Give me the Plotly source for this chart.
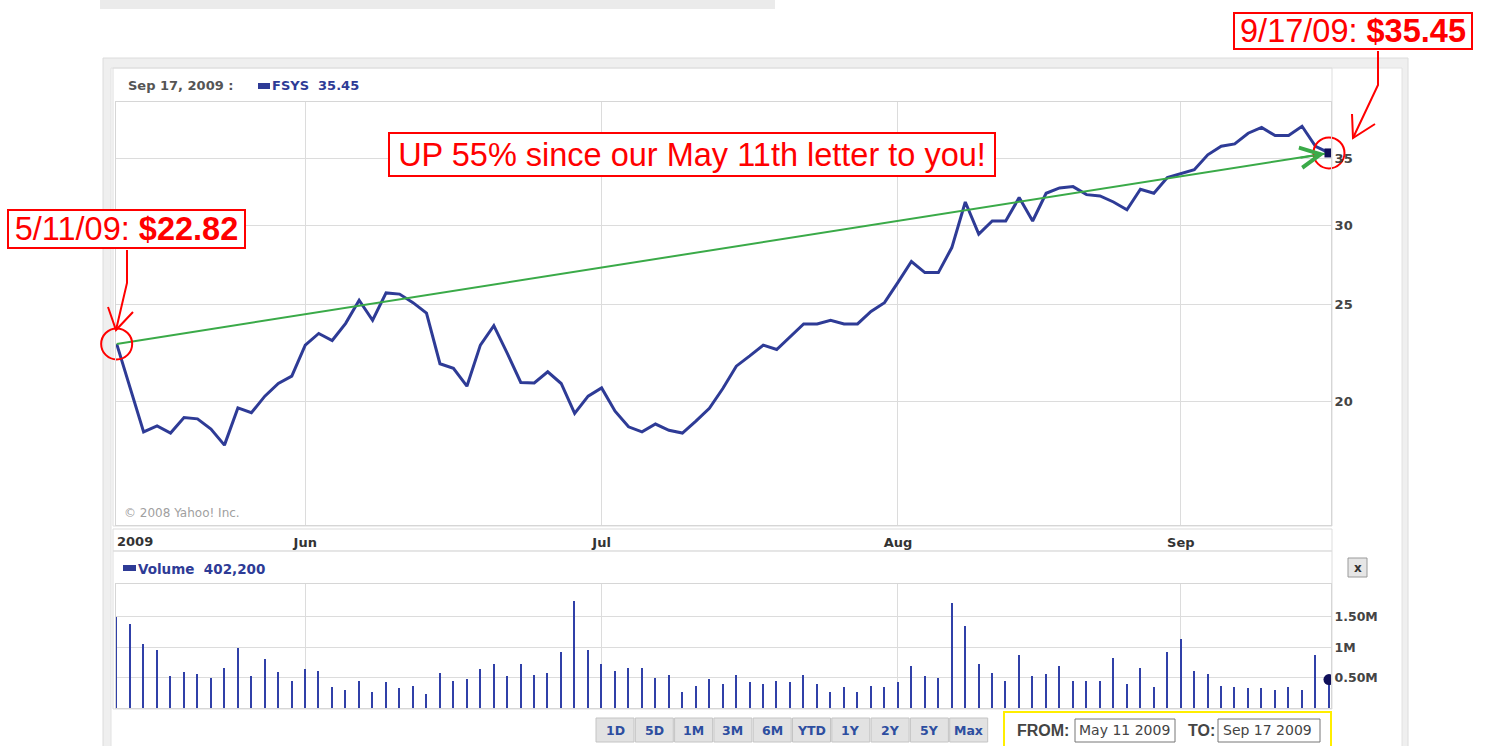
import math
import pandas as pd
import plotly.graph_objects as go

W, H = 1485, 746

# ---------------- data ----------------
SYMBOL = "FSYS"
HOLIDAYS = ["2009-05-25", "2009-07-03", "2009-09-07"]
trade_dates = pd.bdate_range("2009-05-11", "2009-09-17", freq="C", holidays=HOLIDAYS)
date_labels = [d.strftime("%Y-%m-%d") for d in trade_dates]

close = [22.82, 20.60, 18.63, 18.89, 18.58, 19.26, 19.20, 18.75, 18.07, 19.69,
         19.47, 20.23, 20.83, 21.19, 22.76, 23.38, 23.00, 23.93, 25.24, 24.10,
         25.67, 25.60, 25.10, 24.50, 21.80, 21.57, 20.70, 22.76, 23.80, 22.33,
         20.88, 20.86, 21.40, 20.83, 19.44, 20.23, 20.62, 19.54, 18.85, 18.63,
         18.97, 18.70, 18.58, 19.10, 19.67, 20.59, 21.68, 22.20, 22.76, 22.53,
         23.20, 23.90, 23.90, 24.10, 23.90, 23.90, 24.60, 25.10, 26.30, 27.60,
         26.90, 26.90, 28.50, 31.66, 29.40, 30.30, 30.30, 31.98, 30.30, 32.30,
         32.70, 32.80, 32.20, 32.10, 31.66, 31.10, 32.60, 32.30, 33.50, 33.80,
         34.10, 35.30, 36.00, 36.20, 37.10, 37.60, 36.90, 36.90, 37.70, 36.00,
         35.45]

volume_m = [1.50, 1.38, 1.06, 0.95, 0.52, 0.59, 0.56, 0.50, 0.66, 0.98,
            0.53, 0.80, 0.59, 0.45, 0.64, 0.61, 0.34, 0.30, 0.45, 0.27,
            0.43, 0.33, 0.37, 0.24, 0.58, 0.45, 0.48, 0.64, 0.72, 0.53,
            0.72, 0.55, 0.58, 0.92, 1.76, 0.95, 0.72, 0.61, 0.66, 0.66,
            0.50, 0.55, 0.27, 0.37, 0.48, 0.40, 0.55, 0.43, 0.40, 0.45,
            0.43, 0.55, 0.40, 0.27, 0.34, 0.27, 0.37, 0.34, 0.43, 0.69,
            0.53, 0.50, 1.73, 1.35, 0.72, 0.58, 0.45, 0.88, 0.53, 0.56,
            0.69, 0.45, 0.45, 0.45, 0.82, 0.40, 0.66, 0.34, 0.92, 1.13,
            0.61, 0.56, 0.37, 0.34, 0.33, 0.33, 0.30, 0.34, 0.30, 0.88,
            0.4022]
volume = [v * 1e6 for v in volume_m]

month_ticks = ["2009-06-01", "2009-07-01", "2009-08-03", "2009-09-01"]
month_text = ["Jun", "Jul", "Aug", "Sep"]
price_ticks = [20, 25, 30, 35]
vol_ticks = [0.5e6, 1.0e6, 1.5e6]
vol_tick_text = ["0.50M", "1M", "1.50M"]
range_buttons = ["1D", "5D", "1M", "3M", "6M", "YTD", "1Y", "2Y", "5Y", "Max"]

first_label = "5/11/09: "
last_label = "9/17/09: "
headline = "UP 55% since our May 11th letter to you!"

# ---------------- style ----------------
NAVY = "#2e3b96"
BAR = "#3040a8"
GRID = "#dcdcdc"
RED = "#ff0000"
GREEN = "#3aaa48"
TXT = "#444444"
BOLD = dict(family="DejaVu Sans", size=12.5, color=TXT, weight="bold")


def px(x):
    return x / W


def py(y):
    return 1 - y / H


fig = go.Figure()

fig.add_trace(go.Scatter(x=date_labels, y=close, mode="lines",
                         line=dict(color=NAVY, width=3), xaxis="x", yaxis="y",
                         hoverinfo="x+y"))
fig.add_trace(go.Scatter(x=[date_labels[0], date_labels[-1]], y=[close[0], close[-1]],
                         mode="lines", line=dict(color=GREEN, width=2),
                         xaxis="x", yaxis="y", hoverinfo="skip"))
fig.add_trace(go.Scatter(x=[date_labels[-1]], y=[close[-1]], mode="markers",
                         marker=dict(symbol="square", size=9, color="#10105a"),
                         xaxis="x", yaxis="y", cliponaxis=True, hoverinfo="skip"))
fig.add_trace(go.Scatter(x=[date_labels[0], date_labels[-1]], y=[close[0], close[-1]],
                         mode="markers", cliponaxis=False,
                         marker=dict(symbol="circle", size=31, color="rgba(0,0,0,0)",
                                     line=dict(color=RED, width=2)),
                         xaxis="x", yaxis="y", hoverinfo="skip"))
fig.add_trace(go.Bar(x=date_labels, y=volume, width=0.11, marker=dict(color=BAR, line=dict(width=0)),
                     xaxis="x2", yaxis="y2"))
fig.add_trace(go.Scatter(x=[date_labels[-1]], y=[0.47e6], mode="markers",
                         marker=dict(symbol="circle", size=11, color="#10105a"),
                         xaxis="x2", yaxis="y2", cliponaxis=True, hoverinfo="skip"))

n = len(date_labels)
xr = [-0.05, n - 1 + 0.15]
xdom = [px(116), px(1331)]

shapes = []
# top cut-off strip
shapes.append(dict(type="rect", xref="paper", yref="paper", x0=px(100), x1=px(775), y0=py(0), y1=py(9),
                   fillcolor="#ebebeb", line=dict(width=0), layer="below"))
# outer frame
shapes.append(dict(type="rect", xref="paper", yref="paper", x0=px(103), x1=px(1408), y0=py(58), y1=py(760),
                   fillcolor="#efefef", line=dict(color="#dcdcdc", width=1), layer="below"))
shapes.append(dict(type="rect", xref="paper", yref="paper", x0=px(111), x1=px(1402), y0=py(68), y1=py(760),
                   fillcolor="white", line=dict(color="#e2e2e2", width=1), layer="below"))
# panel boxes
for (x0, y0, x1, y1) in [(113, 68, 1332, 526), (113, 529, 1332, 551), (113, 551, 1332, 709)]:
    shapes.append(dict(type="rect", xref="paper", yref="paper", x0=px(x0), x1=px(x1), y0=py(y0), y1=py(y1),
                       fillcolor="rgba(0,0,0,0)", line=dict(color="#dddddd", width=1), layer="below"))
# legend swatches
shapes.append(dict(type="rect", xref="paper", yref="paper", x0=px(258), x1=px(270), y0=py(83), y1=py(89),
                   fillcolor=NAVY, line=dict(width=0)))
shapes.append(dict(type="rect", xref="paper", yref="paper", x0=px(123), x1=px(136), y0=py(565), y1=py(571),
                   fillcolor=NAVY, line=dict(width=0)))
# close button
shapes.append(dict(type="rect", xref="paper", yref="paper", x0=px(1348), x1=px(1367), y0=py(558), y1=py(577),
                   fillcolor="#e6e6e6", line=dict(color="#9a9a9a", width=1)))
# range buttons
for k, lab in enumerate(range_buttons):
    x0 = 596 + k * 39.3
    shapes.append(dict(type="rect", xref="paper", yref="paper", x0=px(x0), x1=px(x0 + 38), y0=py(718), y1=py(742),
                       fillcolor="#e2e2e2", line=dict(color="#c4c4c4", width=1)))
# FROM / TO box
shapes.append(dict(type="rect", xref="paper", yref="paper", x0=px(1004), x1=px(1331), y0=py(712), y1=py(752),
                   fillcolor="white", line=dict(color="#ffee00", width=2)))
for (x0, x1) in [(1075, 1175), (1218, 1320)]:
    shapes.append(dict(type="rect", xref="paper", yref="paper", x0=px(x0), x1=px(x1), y0=py(719), y1=py(742),
                       fillcolor="white", line=dict(color="#777777", width=1)))


def path(points):
    return "M " + " L ".join(f"{px(a):.5f},{py(b):.5f}" for a, b in points)


# red hand-drawn arrows
for pts in ([(1378, 51), (1378, 85), (1353, 138)], [(1352, 114), (1353, 138), (1375, 124)],
            [(127, 250), (127, 283), (116, 330)], [(108, 307), (116, 330), (133, 312)]):
    shapes.append(dict(type="path", xref="paper", yref="paper", path=path(pts),
                       line=dict(color=RED, width=2)))

annotations = []
# green chevron at the end of the trend line
annotations.append(dict(x=date_labels[-1], y=math.log10(close[-1]), xref="x", yref="y",
                        ax=-30, ay=5, showarrow=True, arrowhead=5, arrowsize=2.0, arrowwidth=2,
                        arrowcolor=GREEN, standoff=4, text=""))


def note(x, y, text, font, anchor="left", **kw):
    d = dict(x=px(x), y=py(y), xref="paper", yref="paper", xanchor=anchor, yanchor="middle",
             showarrow=False, text=text, font=font)
    d.update(kw)
    annotations.append(d)


BOX_FONT = dict(family="Liberation Sans, Arial", size=32.5, color=RED)
BOX = dict(bgcolor="white", bordercolor=RED, borderwidth=2, borderpad=0)
note(1353, 31, f"{last_label}<b>${close[-1]:.2f}</b>", BOX_FONT, "center", width=236, height=34, **BOX)
note(126.5, 229, f"{first_label}<b>${close[0]:.2f}</b>", BOX_FONT, "center", width=235, height=36, **BOX)
note(692, 154.5, headline, BOX_FONT, "center", width=604, height=41, **BOX)

# header texts
note(126, 86, f"{trade_dates[-1].strftime('%b')} {trade_dates[-1].day}, {trade_dates[-1].year} :",
     dict(family="DejaVu Sans", size=13, color="#555555", weight="bold"))
note(270, 86, f"{SYMBOL}&nbsp;&nbsp;{close[-1]:.2f}", dict(family="DejaVu Sans", size=13, color=NAVY, weight="bold"))
note(136, 569, f"Volume&nbsp;&nbsp;{volume[-1]:,.0f}", dict(family="DejaVu Sans", size=13.5, color=NAVY, weight="bold"))
note(115, 541, str(trade_dates[0].year), dict(family="DejaVu Sans", size=13, color="#333333", weight="bold"))
note(122, 513, "© 2008 Yahoo! Inc.", dict(family="DejaVu Sans", size=12, color="#a0a0a0"))
note(1357.5, 567.5, "x", dict(family="DejaVu Sans", size=12, color="#333333", weight="bold"), "center")
for k, lab in enumerate(range_buttons):
    x0 = 596 + k * 39.3
    note(x0 + 19, 730, lab, dict(family="DejaVu Sans", size=12.5, color="#2d4ea0", weight="bold"), "center")
note(1015, 730, "FROM:", dict(family="Liberation Sans, Arial", size=16, color="#444444", weight="bold"))
note(1186, 730, "TO:", dict(family="Liberation Sans, Arial", size=16, color="#444444", weight="bold"))
note(1077, 730, trade_dates[0].strftime("%b %d %Y"), dict(family="DejaVu Sans", size=14, color="#444444"))
note(1221, 730, trade_dates[-1].strftime("%b %d %Y"), dict(family="DejaVu Sans", size=14, color="#444444"))

fig.update_layout(
    width=W, height=H, margin=dict(l=0, r=0, t=0, b=0),
    paper_bgcolor="white", plot_bgcolor="white", showlegend=False,
    shapes=shapes, annotations=annotations, bargap=0,
    xaxis=dict(domain=xdom, anchor="y", type="category", range=xr,
               tickvals=month_ticks, ticktext=month_text, ticks="", ticklabelstandoff=5,
               showgrid=True, gridcolor=GRID, gridwidth=1, zeroline=False,
               showline=True, mirror=True, linecolor="#d6d6d6", tickfont=dict(BOLD, size=13, color="#333333")),
    yaxis=dict(domain=[py(525), py(102)], anchor="x", type="log",
               range=[math.log10(15.03), math.log10(39.87)], side="right",
               tickvals=price_ticks, ticktext=[str(t) for t in price_ticks], ticks="",
               showgrid=True, gridcolor=GRID, gridwidth=1, zeroline=False,
               showline=True, mirror=True, linecolor="#d6d6d6", tickfont=dict(BOLD, size=13)),
    xaxis2=dict(domain=xdom, anchor="y2", type="category", range=xr,
                tickvals=month_ticks, showticklabels=False, ticks="",
                showgrid=True, gridcolor=GRID, zeroline=False,
                showline=True, mirror=True, linecolor="#d6d6d6"),
    yaxis2=dict(domain=[py(708.2), py(584)], anchor="x2", range=[0, 2.036e6], side="right",
                tickvals=vol_ticks, ticktext=vol_tick_text, ticks="",
                showgrid=True, gridcolor=GRID, zeroline=False,
                showline=True, mirror=True, linecolor="#d6d6d6", tickfont=dict(BOLD, size=12.5)),
)

fig.write_html("out.html", config={"displayModeBar": False},
               post_script="document.body.style.margin='0px';")
